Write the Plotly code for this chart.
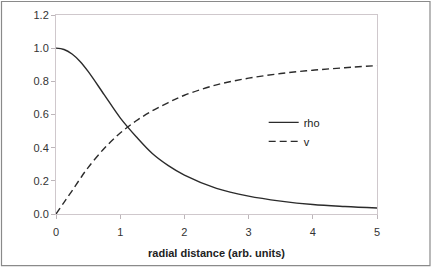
import plotly.graph_objects as go

r = [0, 0.125, 0.25, 0.375, 0.5, 0.75, 1.0, 1.25, 1.5, 1.75, 2.0, 2.5, 3.0, 3.5, 4.0, 4.5, 5.0]
rho = [1.0, 0.992, 0.965, 0.92, 0.86, 0.72, 0.58, 0.466, 0.365, 0.292, 0.235, 0.155, 0.108, 0.078, 0.057, 0.045, 0.036]
v = [0.0, 0.07, 0.14, 0.212, 0.28, 0.395, 0.488, 0.562, 0.622, 0.672, 0.716, 0.779, 0.819, 0.847, 0.867, 0.882, 0.895]

x_ticks = [0, 1, 2, 3, 4, 5]
y_ticks = [0.0, 0.2, 0.4, 0.6, 0.8, 1.0, 1.2]
x_title = "radial distance (arb. units)"

fig = go.Figure()
fig.add_trace(go.Scatter(x=r, y=rho, name="rho", mode="lines",
                         line=dict(color="#2b2b2b", width=1.4, shape="spline", smoothing=1.0)))
fig.add_trace(go.Scatter(x=r, y=v, name="v", mode="lines",
                         line=dict(color="#2b2b2b", width=1.4, shape="spline", smoothing=1.0,
                                   dash="7px,4px")))

axis_common = dict(showgrid=False, zeroline=False, showline=True, linecolor="#cfc8cc",
                   linewidth=1, mirror=True, ticks="outside", ticklen=4, tickcolor="#bdb6ba",
                   automargin=False,
                   tickfont=dict(family="Liberation Sans, Arial", size=11, color="#333333"))

fig.update_layout(
    width=432, height=268,
    margin=dict(l=56, r=55, t=15, b=54),
    paper_bgcolor="white", plot_bgcolor="white",
    xaxis=dict(range=[0, 5], tickvals=x_ticks, ticktext=[str(t) for t in x_ticks],
               ticklabelstandoff=4,
               title=dict(text="<b>" + x_title + "</b>", standoff=12,
                          font=dict(family="Liberation Sans, Arial", size=11, color="#222222")),
               **axis_common),
    yaxis=dict(range=[0, 1.2], tickvals=y_ticks, ticktext=[f"{t:.1f}" for t in y_ticks],
               **axis_common),
    legend=dict(x=0.647, y=0.4125, xanchor="left", yanchor="middle", bgcolor="rgba(0,0,0,0)",
                font=dict(family="Liberation Sans, Arial", size=11, color="#222222"),
                itemwidth=30, tracegroupgap=0),
    showlegend=True,
    shapes=[dict(type="rect", xref="paper", yref="paper",
                 x0=(1.5 - 56) / 321, x1=(430 - 56) / 321,
                 y0=(214.3 - 266) / 199.3, y1=(214.3 - 1.5) / 199.3,
                 line=dict(color="#8a8a8a", width=1.2), layer="below")],
)

fig.write_html("out.html", config={"displayModeBar": False},
               post_script="document.body.style.margin='0';document.body.style.overflow='hidden';")
